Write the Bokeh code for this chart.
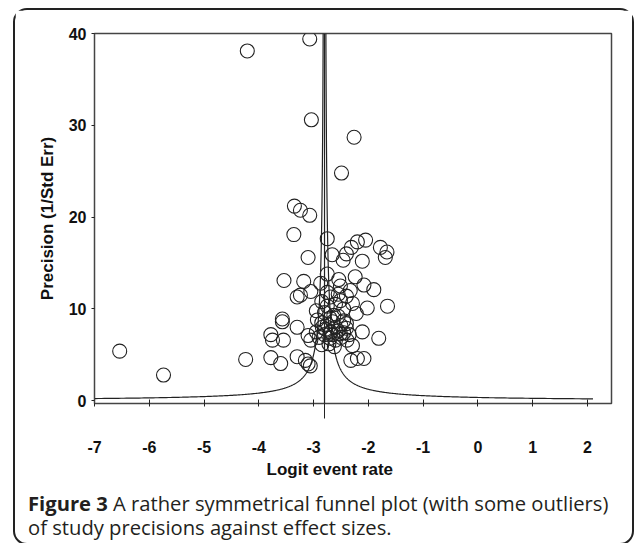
import numpy as np
from bokeh.plotting import figure
from bokeh.layouts import column
from bokeh.models import Range1d, FixedTicker, Span, Title, Div
from bokeh.embed import file_html
from bokeh.resources import INLINE

# ---- data ----
logit_rate = [
    -3.07, -4.21, -3.04, -2.26, -2.49,
    -3.35, -3.24, -3.07, -3.36, -2.75,
    -2.66, -3.10, -2.46, -2.40, -2.31, -2.20, -2.05, -2.11, -1.78, -1.66, -1.69,
    -3.54, -3.18, -2.87, -2.75, -2.54, -2.51, -2.24, -2.08, -1.90, -2.33, -2.75,
    -3.24, -3.05, -3.30, -2.69, -2.51, -2.29, -2.02, -1.65, -2.63, -2.22,
    -3.57, -3.57, -2.93, -3.78, -3.75, -3.55, -3.30, -3.10, -3.05, -2.90, -2.84,
    -2.69, -2.60, -2.51, -2.72, -2.39, -2.11, -1.81, -2.29,
    -4.24, -3.78, -3.60, -3.30, -3.15, -3.10, -3.06, -2.32, -2.20, -2.08, -6.54, -5.74,
    -2.80, -2.70, -2.55, -2.45, -2.85, -2.75, -2.65, -2.50, -2.40, -2.78,
    -2.65, -2.55, -2.45, -2.35, -2.80, -2.95, -2.70, -2.60, -2.50, -2.85,
    -2.62, -2.40, -2.75, -2.60, -2.45, -2.85, -2.55, -2.40, -2.95,
]
precision = [
    39.4, 38.1, 30.6, 28.7, 24.8,
    21.2, 20.75, 20.2, 18.1, 17.65,
    15.9, 15.6, 15.3, 16.0, 16.7, 17.3, 17.5, 15.2, 16.7, 16.2, 15.6,
    13.1, 13.0, 12.8, 13.8, 13.2, 12.5, 13.5, 12.6, 12.1, 12.0, 11.8,
    11.5, 11.9, 11.3, 11.3, 10.9, 10.6, 10.1, 10.3, 9.3, 9.5,
    8.9, 8.6, 8.8, 7.2, 6.6, 6.6, 8.0, 7.1, 6.6, 6.9, 8.0,
    7.5, 8.0, 7.3, 6.2, 6.6, 7.5, 6.8, 6.0,
    4.5, 4.7, 4.05, 4.8, 4.4, 4.0, 3.8, 4.4, 4.6, 4.6, 5.4, 2.8,
    9.6, 9.0, 9.2, 8.7, 8.5, 8.3, 8.6, 8.2, 7.9, 7.8,
    7.2, 7.6, 7.4, 7.2, 7.2, 7.5, 6.8, 6.6, 6.9, 6.1,
    5.9, 8.4, 10.3, 10.5, 10.0, 10.8, 11.6, 11.4, 9.8,
]
x_ticks = [-7, -6, -5, -4, -3, -2, -1, 0, 1, 2]
x_tick_labels = ["-7", "-6", "-5", "-4", "-3", "-2", "-1", "0", "1", "2"]
y_ticks = [0, 10, 20, 30, 40]
funnel_center = -2.8        # combined logit event rate (vertical line)
funnel_z = 1.0              # half-width factor of the funnel limits
funnel_min_precision = 0.204
funnel_max_precision = 40

x_label = "Logit event rate"
y_label = "Precision (1/Std Err)"
caption_bold = "Figure 3"
caption_1 = "A rather symmetrical funnel plot (with some outliers)"
caption_2 = "of study precisions against effect sizes."

AX_FONT = "Liberation Sans"
CAP_FONT = "Open Sans"
INK = "#222222"
TXT = "#111111"

p = figure(width=617, height=470,
           x_range=Range1d(-7, 2.44), y_range=Range1d(-0.3, 40),
           output_backend="svg", toolbar_location=None,
           min_border_left=79, min_border_right=21,
           min_border_top=23, min_border_bottom=77)
p.background_fill_color = "white"
p.border_fill_color = "white"
p.outline_line_color = "#444444"
p.outline_line_width = 1.5
p.xgrid.visible = False
p.ygrid.visible = False

# funnel limits
fp = np.geomspace(funnel_min_precision, funnel_max_precision, 400)
p.line(funnel_center - funnel_z / fp, fp, line_color=INK, line_width=1.2)
p.line(funnel_center + funnel_z / fp, fp, line_color=INK, line_width=1.2)
p.add_layout(Span(location=funnel_center, dimension="height",
                  line_color=INK, line_width=1.2))

# studies
p.scatter(logit_rate, precision, marker="circle", size=14,
          fill_color=None, line_color=INK, line_width=1.1)

# x axis (minor tick marks the combined estimate below the axis)
xa = p.xaxis[0]
xa.ticker = FixedTicker(ticks=x_ticks, minor_ticks=[funnel_center])
xa.major_label_overrides = dict(zip(x_ticks, x_tick_labels))
xa.major_tick_in = 4
xa.major_tick_out = 3
xa.minor_tick_in = 0
xa.minor_tick_out = 15
xa.minor_tick_line_color = INK
xa.major_label_standoff = 22
xa.axis_line_color = "#444444"
xa.major_tick_line_color = INK
xa.major_label_text_font = AX_FONT
xa.major_label_text_font_style = "bold"
xa.major_label_text_font_size = "16px"
xa.major_label_text_color = TXT

ya = p.yaxis[0]
ya.ticker = FixedTicker(ticks=y_ticks)
ya.major_tick_in = 0
ya.major_tick_out = 3
ya.minor_tick_in = 0
ya.minor_tick_out = 0
ya.major_label_standoff = 5
ya.axis_label_standoff = 9
ya.axis_line_color = "#444444"
ya.major_tick_line_color = INK
ya.major_label_text_font = AX_FONT
ya.major_label_text_font_style = "bold"
ya.major_label_text_font_size = "16px"
ya.major_label_text_color = TXT
ya.axis_label = y_label
ya.axis_label_text_font = AX_FONT
ya.axis_label_text_font_style = "bold"
ya.axis_label_text_font_size = "17px"
ya.axis_label_text_color = TXT

# x axis title, slightly left of centre as in the original
p.add_layout(Title(text=x_label, align="left", offset=172, standoff=4,
                   text_font=AX_FONT, text_font_style="bold",
                   text_font_size="17px", text_color=TXT), "below")

caption = Div(
    text=(f'<div style="font-family:\'{CAP_FONT}\';font-size:20.2px;line-height:24px;'
          f'color:#231f20;white-space:nowrap;padding:11px 0 0 13px;margin:0;">'
          f'<b>{caption_bold}</b> {caption_1}<br>{caption_2}</div>'),
    width=617, height=63, margin=0)

layout = column(p, caption, spacing=0, margin=(8, 0, 0, 13),
                styles={"border": "2px solid #222", "border-radius": "14px",
                        "background": "white"})

open("out.html", "w").write(file_html(layout, INLINE))
